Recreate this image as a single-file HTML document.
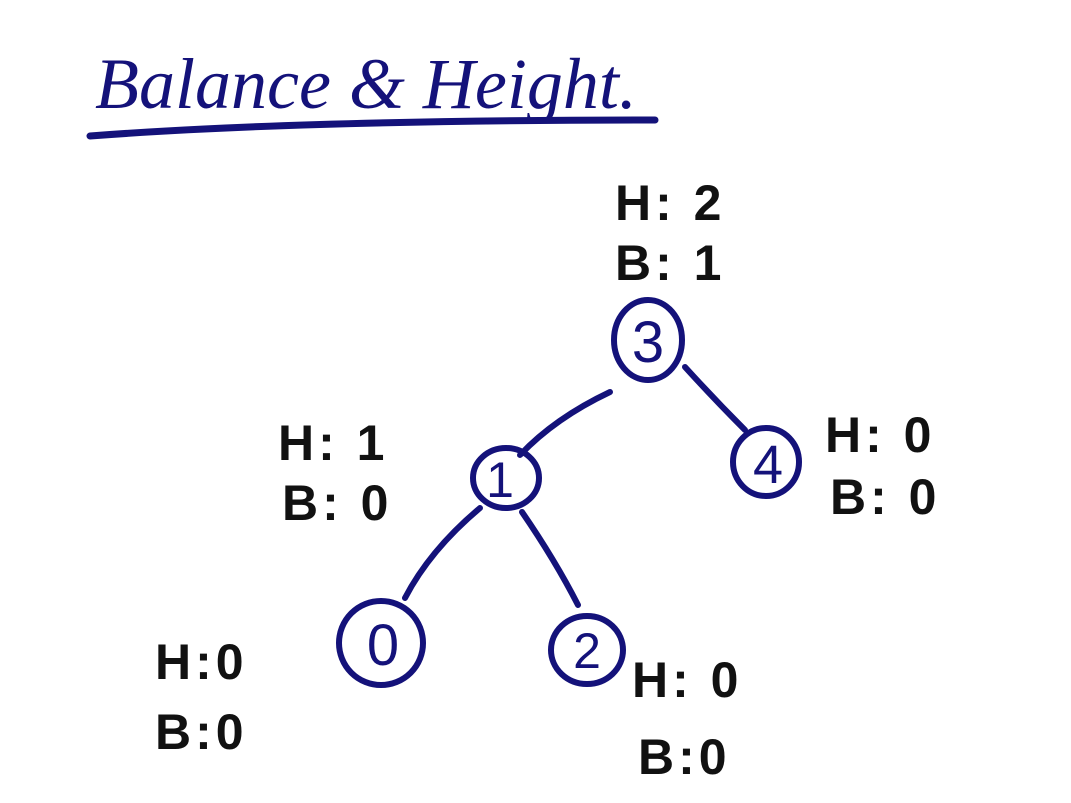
<!DOCTYPE html>
<html><head><meta charset="utf-8"><style>
html,body{margin:0;padding:0;background:#fff;}
svg{display:block}
.t{font-family:"Liberation Serif",serif;font-style:italic;fill:#14127a}
.lbl{font-family:"Liberation Sans",sans-serif;font-weight:bold;fill:#111;letter-spacing:4px}
.nv{font-family:"Liberation Sans",sans-serif;fill:#14127a}
</style></head><body>
<svg width="1071" height="803" viewBox="0 0 1071 803">
<rect width="1071" height="803" fill="#fff"/>
<text class="t" x="95" y="108" font-size="72">Balance &amp; Height.</text>
<path d="M90 136 Q 300 120 655 120" stroke="#14127a" stroke-width="7" fill="none" stroke-linecap="round"/>
<g stroke="#14127a" stroke-width="6" fill="none" stroke-linecap="round">
<path d="M610 392 Q 555 418 520 455"/>
<path d="M685 367 Q 715 400 745 430"/>
<path d="M480 508 Q 430 550 405 598"/>
<path d="M522 512 Q 555 560 578 605"/>
</g>
<g stroke="#14127a" stroke-width="6" fill="none">
<ellipse cx="648" cy="340" rx="34" ry="40"/>
<ellipse cx="506" cy="478" rx="33" ry="30"/>
<ellipse cx="766" cy="462" rx="33" ry="34"/>
<ellipse cx="381" cy="643" rx="42" ry="42"/>
<ellipse cx="587" cy="650" rx="36" ry="34"/>
</g>
<text class="nv" x="648" y="362" font-size="58" text-anchor="middle">3</text>
<text class="nv" x="500" y="497" font-size="50" text-anchor="middle">1</text>
<text class="nv" x="768" y="483" font-size="54" text-anchor="middle">4</text>
<text class="nv" x="383" y="665" font-size="58" text-anchor="middle">0</text>
<text class="nv" x="587" y="668" font-size="50" text-anchor="middle">2</text>
<g class="lbl" font-size="50">
<text x="615" y="220">H: 2</text>
<text x="615" y="280">B: 1</text>
<text x="278" y="460">H: 1</text>
<text x="282" y="520">B: 0</text>
<text x="825" y="452">H: 0</text>
<text x="830" y="514">B: 0</text>
<text x="155" y="679">H:0</text>
<text x="155" y="749">B:0</text>
<text x="632" y="697">H: 0</text>
<text x="638" y="774">B:0</text>
</g>
</svg>
</body></html>
